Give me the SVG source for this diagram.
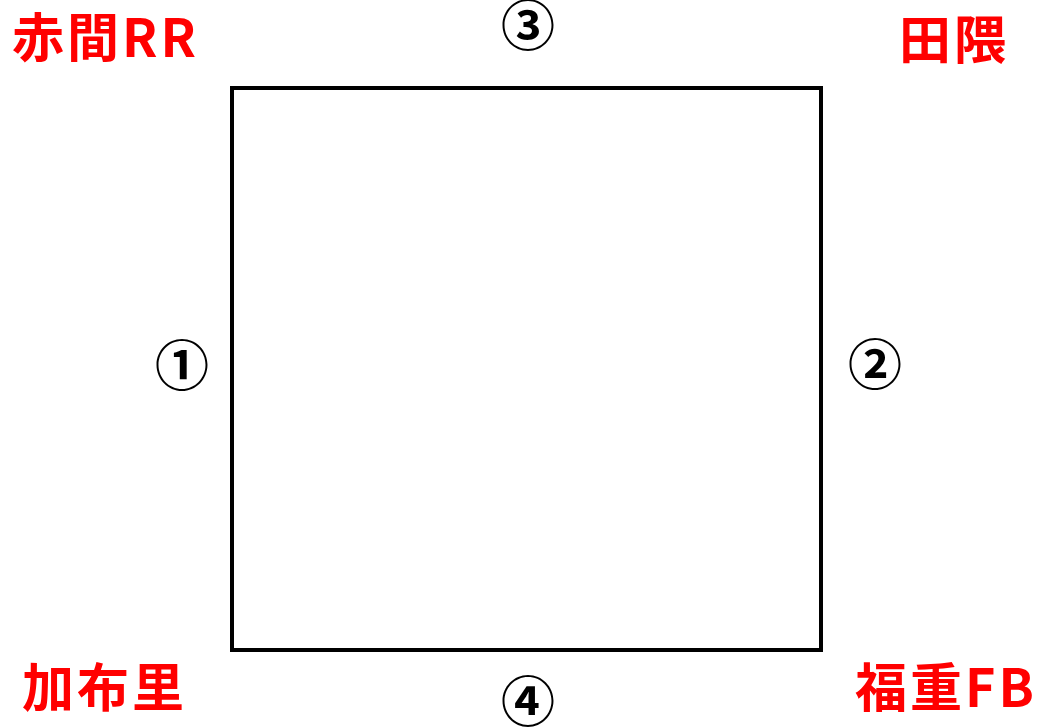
<svg xmlns="http://www.w3.org/2000/svg" width="1051" height="727" viewBox="0 0 1051 727">
<style>
.lbl{font-family:"Noto Sans CJK JP","Noto Sans",sans-serif;font-weight:bold;font-size:52px;letter-spacing:3px;fill:#FF0000}
.num{font-family:"Noto Sans CJK JP","Noto Sans",sans-serif;font-weight:bold;font-size:54px;fill:#000;text-anchor:middle}
</style>
<rect width="1051" height="727" fill="#fff"/>
<g id="connectors">
<rect id="square" x="232" y="88" width="589" height="562" fill="none" stroke="#000" stroke-width="4"/>
</g>
<g id="n-akama"><text class="lbl" x="12" y="57">赤間RR</text></g>
<g id="n-taguma"><text class="lbl" x="899" y="59">田隈</text></g>
<g id="n-kafuri"><text class="lbl" x="22" y="707">加布里</text></g>
<g id="n-fukushige"><text class="lbl" x="855" y="707">福重FB</text></g>
<g id="n-1"><text class="num" x="182" y="386">①</text></g>
<g id="n-2"><text class="num" x="875" y="385">②</text></g>
<g id="n-3"><text class="num" x="528" y="46">③</text></g>
<g id="n-4"><text class="num" x="528" y="722">④</text></g>
</svg>
